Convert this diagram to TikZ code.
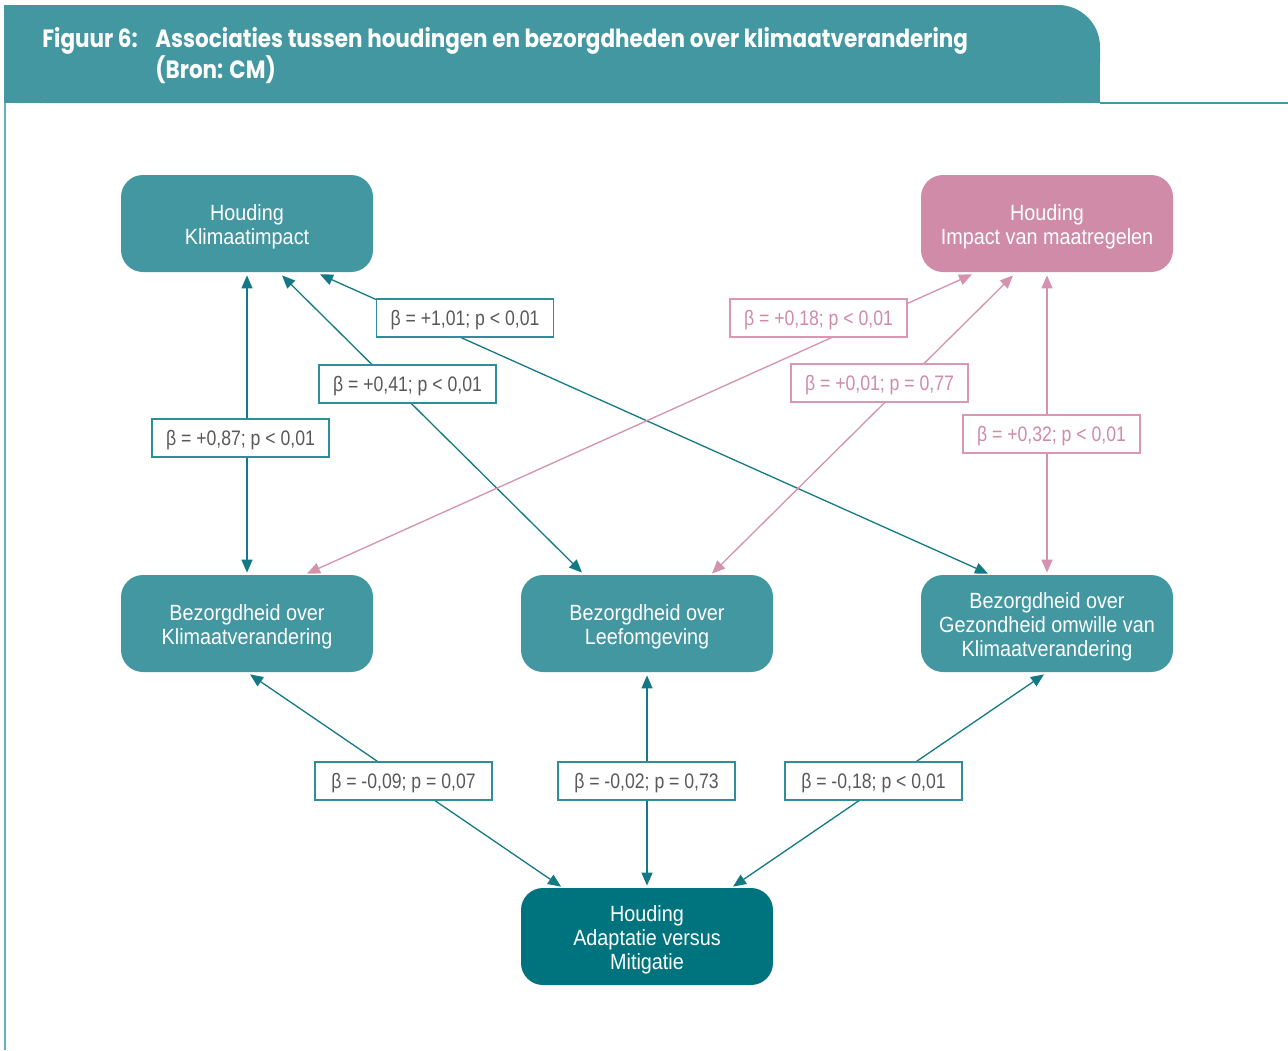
\documentclass[tikz,border=0pt]{standalone}
\usepackage{fontspec}
\setmainfont[FakeStretch=0.84]{Liberation Sans}
\newfontfamily\nodefont[FakeStretch=0.9]{Liberation Sans}
\newfontfamily\titlefont[FakeStretch=0.86]{Poppins}
\usetikzlibrary{calc,arrows.meta}
\newcommand\topstrutx{\rule{0pt}{11pt}}
\definecolor{nodeteal}{HTML}{4397A1}
\definecolor{darkteal}{HTML}{00747E}
\definecolor{nodepink}{HTML}{CF8BA8}
\definecolor{lineteal}{HTML}{137A85}
\definecolor{linepink}{HTML}{D592AF}
\definecolor{lblteal}{HTML}{2F8E99}
\definecolor{lblpink}{HTML}{DA97B4}
\definecolor{lblgray}{HTML}{595959}
\definecolor{headteal}{HTML}{4297A0}
\definecolor{bordercol}{HTML}{5DB4BD}
\tikzset{
 box/.style={rounded corners=11pt, minimum width=126pt, minimum height=48.5pt, inner sep=0pt, align=center, text=white, font=\nodefont\fontsize{11}{12}\selectfont},
 tealbox/.style={box, fill=nodeteal},
 pinkbox/.style={box, fill=nodepink},
 darkbox/.style={box, fill=darkteal},
 lbl/.style={draw, fill=white, line width=0.7pt, minimum width=88.5pt, minimum height=19pt, inner sep=0pt, font=\fontsize{10.5}{12}\selectfont, execute at begin node={\rule{0pt}{10pt}}},
 tlbl/.style={lbl, draw=lblteal, text=lblgray},
 plbl/.style={lbl, draw=lblpink, text=nodepink},
 tarr/.style={draw=lineteal, line width=0.65pt, {Triangle[length=6.5pt,width=5.5pt]}-{Triangle[length=6.5pt,width=5.5pt]}},
 parr/.style={tarr, draw=linepink},
 ttl/.style={anchor=base west, inner sep=0pt, text=white, font=\titlefont\bfseries\fontsize{12.5}{14}\selectfont}
}
\begin{document}
\begin{tikzpicture}[x=0.5pt,y=-0.5pt]
\useasboundingbox[fill=white] (0,0) rectangle (1288,1050);
% header
\fill[headteal, rounded corners=21pt] (4,5) rectangle (1100,103);
\fill[headteal] (4,5) rectangle (80,103);
\fill[headteal] (4,60) rectangle (1100,103);
\draw[headteal, line width=0.6pt] (1100,103) -- (1288,103);
\draw[bordercol, line width=1pt] (4.5,103) -- (4.5,1050);
\node[ttl] (t1) at (42,47) {Figuur 6:};
\node[ttl] (t2) at (155,47) {Associaties tussen houdingen en bezorgdheden over klimaatverandering};
\node[ttl] (t3) at (155,78) {(Bron: CM)};
% nodes
\node[tealbox] (HK) at (247,223.5) {\topstrutx Houding\\Klimaatimpact};
\node[pinkbox] (HI) at (1047,223.5) {\topstrutx Houding\\Impact van maatregelen};
\node[tealbox] (BK) at (247,623.5) {\topstrutx Bezorgdheid over\\Klimaatverandering};
\node[tealbox] (BL) at (647,623.5) {\topstrutx Bezorgdheid over\\Leefomgeving};
\node[tealbox] (BG) at (1047,623.5) {\topstrutx Bezorgdheid over\\Gezondheid omwille van\\Klimaatverandering};
\node[darkbox] (HA) at (647,936.5) {\topstrutx Houding\\Adaptatie versus\\Mitigatie};
% connectors
\draw[tarr] ($(HK.south)+(0,3)$) -- ($(BK.north)+(0,-2)$);
\draw[tarr] ($(HK.south)+(35,3)$) -- ($(BL.north)+(-65,-2)$);
\draw[tarr] ($(HK.south)+(73,2)$) -- ($(BG.north)+(-59,-1)$);
\draw[parr] ($(HI.south)+(-75,2)$) -- ($(BK.north)+(60,-1)$);
\draw[parr] ($(HI.south)+(-34,3)$) -- ($(BL.north)+(65,-1)$);
\draw[parr] ($(HI.south)+(0,3)$) -- ($(BG.north)+(0,-2)$);
\draw[tarr] ($(BK.south)+(3,2)$) -- ($(HA.north)+(-86,-1)$);
\draw[tarr] ($(BL.south)+(0,3)$) -- ($(HA.north)+(0,-2)$);
\draw[tarr] ($(BG.south)+(-3,2)$) -- ($(HA.north)+(86,-1)$);
% labels
\node[tlbl] (l1) at (465,318) {β = +1,01; p < 0,01};
\node[tlbl] (l2) at (407.5,384) {β = +0,41; p < 0,01};
\node[tlbl] (l3) at (240.5,438) {β = +0,87; p < 0,01};
\node[plbl] (l4) at (818.5,318) {β = +0,18; p < 0,01};
\node[plbl] (l5) at (879.5,383) {β = +0,01; p = 0,77};
\node[plbl] (l6) at (1051.5,434) {β = +0,32; p < 0,01};
\node[tlbl] (l7) at (403.5,781) {β = -0,09; p = 0,07};
\node[tlbl] (l8) at (646.5,781) {β = -0,02; p = 0,73};
\node[tlbl] (l9) at (873.5,781) {β = -0,18; p < 0,01};
\end{tikzpicture}
\end{document}
